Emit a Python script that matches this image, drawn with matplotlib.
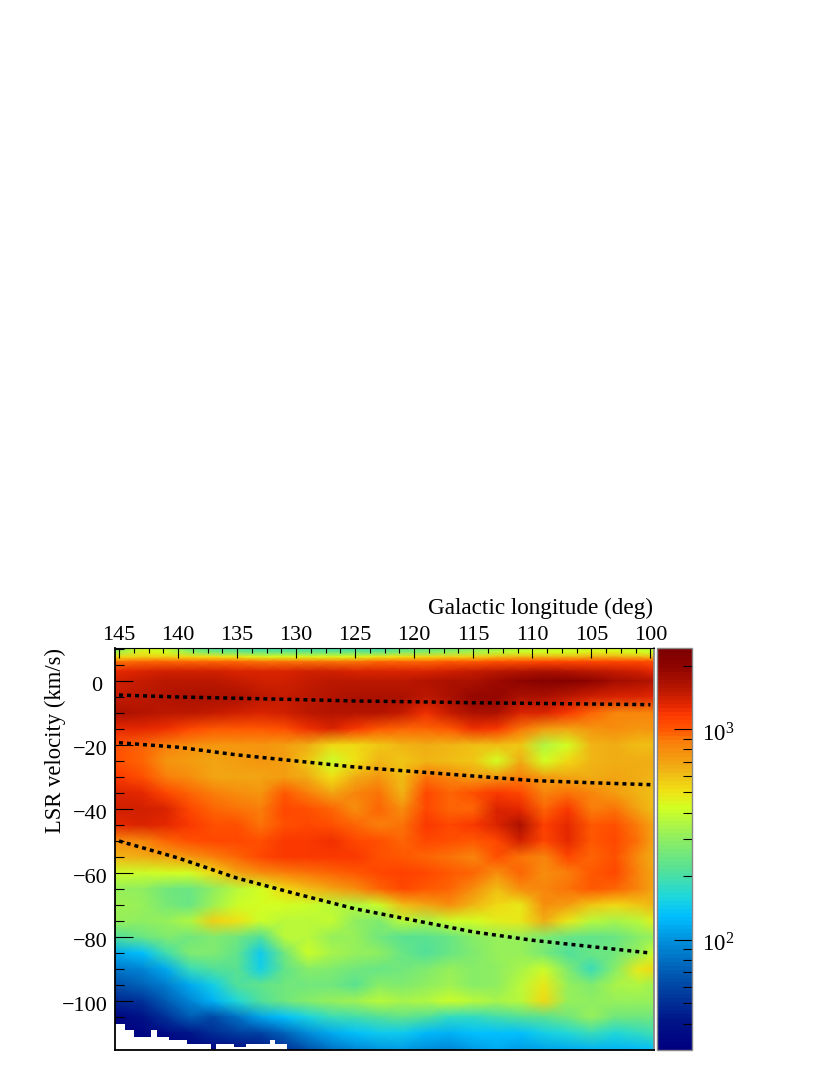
import numpy as np
import matplotlib
matplotlib.use("Agg")
import matplotlib.pyplot as plt
from matplotlib.colors import LinearSegmentedColormap, LogNorm
from matplotlib.ticker import FixedLocator, NullFormatter
from matplotlib.transforms import ScaledTranslation

plt.rcParams['font.family'] = ['Liberation Serif', 'DejaVu Serif']
plt.rcParams['mathtext.default'] = 'regular'
plt.rcParams['mathtext.fontset'] = 'custom'
plt.rcParams['mathtext.rm'] = 'Liberation Serif'

longitudes = [145.3,143,141,139,137,135,133,131,129,127,125,123,121,119,117,115,113,111,109,107,105,103,101,99.7]
velocities = [10.3,9,7.5,6,3,0,-5,-10,-15,-20,-25,-30,-35,-40,-45,-50,-55,-60,-65,-70,-75,-80,-85,-90,-95,-100,-105,-110,-115.3]
# log10(intensity) * 100, one row per velocity
log_intensity = [
[245,262,258,238,232,230,228,228,228,228,228,228,234,236,240,246,252,256,260,260,262,262,260,256],
[252,266,264,250,242,240,238,238,238,238,238,238,244,246,250,254,258,262,264,264,266,266,264,262],
[272,275,275,272,270,268,265,265,265,265,265,268,270,272,275,275,278,280,280,280,282,282,280,278],
[295,298,298,298,298,298,296,296,296,296,296,298,298,298,300,300,302,302,304,304,304,304,304,302],
[310,312,314,314,314,312,312,312,314,314,312,312,312,312,314,316,318,320,322,320,318,316,314,311],
[314,317,319,319,319,317,315,315,317,319,319,319,319,321,322,323,326,330,333,334,329,325,323,321],
[317,319,321,323,323,322,319,317,319,321,323,323,322,319,323,327,327,323,323,318,314,312,312,310],
[323,321,319,319,316,314,312,314,318,320,321,320,316,308,316,322,322,312,312,306,298,292,292,292],
[310,310,308,304,300,300,300,302,308,312,306,300,298,298,300,308,306,296,286,284,288,290,288,288],
[302,298,294,290,288,288,288,286,282,272,272,276,280,282,280,279,278,277,255,264,280,282,278,278],
[302,298,288,286,285,286,288,286,276,262,270,280,276,280,278,276,264,282,264,272,280,282,282,282],
[306,302,294,290,284,284,284,286,282,270,282,288,278,296,292,286,288,294,286,284,282,284,282,280],
[312,310,304,298,294,290,288,300,294,284,292,296,280,304,298,302,306,304,292,296,292,286,280,278],
[314,314,312,304,298,296,294,304,302,298,290,298,290,304,298,298,312,310,298,306,294,296,284,278],
[310,312,310,306,302,302,296,302,304,302,298,294,296,306,304,306,312,322,305,310,300,302,294,284],
[290,292,298,302,304,304,302,306,306,308,304,302,298,304,302,300,304,314,304,310,300,304,296,284],
[280,282,284,288,294,298,304,306,306,306,306,302,300,298,296,292,302,296,292,304,298,302,290,282],
[262,262,264,264,272,284,290,294,296,298,300,303,305,303,300,298,290,298,290,294,300,304,292,284],
[250,248,240,238,248,258,264,272,278,284,290,298,304,300,298,290,278,290,292,296,300,298,292,284],
[252,250,242,238,252,262,264,264,262,258,256,262,278,284,290,280,272,268,290,286,276,272,276,280],
[250,248,250,255,274,270,262,258,258,260,248,244,258,254,262,264,266,268,282,268,258,254,258,266],
[232,238,244,240,244,240,232,258,258,250,250,240,234,234,238,246,250,250,244,238,236,238,246,250],
[205,212,228,244,244,236,216,240,262,254,250,248,238,232,238,244,250,250,242,232,238,240,250,262],
[192,196,205,226,232,234,218,236,246,244,240,238,240,244,250,246,248,254,262,244,226,246,268,272],
[182,186,195,205,218,232,236,240,240,240,234,246,244,248,252,246,248,258,268,250,244,254,256,252],
[168,172,184,196,208,222,232,240,246,250,252,258,254,256,262,258,254,258,272,250,248,250,250,250],
[152,160,172,184,180,190,204,212,220,226,228,232,236,232,224,224,228,232,234,240,250,240,240,240],
[150,152,156,162,170,175,178,186,198,206,212,216,216,210,208,212,212,212,218,222,226,222,224,228],
[148,148,150,150,152,155,160,170,182,190,196,200,202,198,196,202,205,202,204,206,208,208,210,212],
]

# empty bins at the lower left
empty_lon_edges = [145.34,144.5,143.75,142.25,141.75,140.75,139.25,137.25,136.75,135.25,134.25,132.25,131.75,130.75]
empty_top = [-107.3,-109.2,-111.3,-109.2,-111.3,-112.3,-113.5,-115.3,-113.5,-114.5,-113.5,-112.3,-113.5]

curve_lon = [145,140,135,130,125,120,115,110,105,100]
curve_1 = [-4.4,-5.0,-5.4,-5.8,-6.25,-6.5,-6.8,-7.0,-7.2,-7.4]
curve_2 = [-19.3,-20.7,-23.1,-25.0,-26.9,-28.3,-29.7,-31.1,-31.8,-32.4]
curve_3 = [-50.0,-55.3,-61.6,-66.5,-71.2,-74.8,-78.4,-81.0,-83.0,-85.0]

lon_ticks = [145,140,135,130,125,120,115,110,105,100]
vel_ticks = [0,-20,-40,-60,-80,-100]
vel_labels = ['0\u2009','\u221220','\u221240','\u221260','\u221280','\u2212100']

cmap_stops = [(0,(0,0,128)),(.067,(0,20,135)),(.174,(0,80,170)),(.249,(0,130,210)),(.33,(0,190,255)),
              (.38,(30,215,220)),(.448,(85,225,150)),(.535,(150,240,90)),(.604,(210,255,35)),
              (.647,(240,225,20)),(.704,(240,175,20)),(.77,(250,125,10)),(.8,(255,85,0)),(.833,(255,60,0)),
              (.858,(230,40,0)),(.895,(190,25,0)),(.953,(145,5,0)),(1,(125,0,0))]
cmap = LinearSegmentedColormap.from_list('roothot', [(f,tuple(c/255 for c in rgb)) for f,rgb in cmap_stops], N=100)

W, H = 830, 1075
fig = plt.figure(figsize=(W/100, H/100), dpi=100)
def px_axes(x0, y0, x1, y1):
    return fig.add_axes([x0/W, 1-y1/H, (x1-x0)/W, (y1-y0)/H])

ax = px_axes(115, 648, 654, 1050)
Z = 10.0**(np.array(log_intensity)/100.0)
X, Y = np.meshgrid(longitudes, velocities)
norm = LogNorm(vmin=30, vmax=2422)
mesh = ax.pcolormesh(X, Y, Z, shading='gouraud', cmap=cmap, norm=norm, rasterized=True)
ax.fill_between(empty_lon_edges, empty_top+[empty_top[-1]], -116, step='post', color='white', lw=0, zorder=2)

for c in (curve_1, curve_2, curve_3):
    ax.plot(curve_lon, c, color='black', lw=2.5, ls=(0,(1.14,1.17)), dash_capstyle='butt', zorder=3)

ax.set_xlim(145.34, 99.69)
ax.set_ylim(-115.3, 10.3)
ax.xaxis.tick_top()
ax.set_xticks(lon_ticks)
ax.set_xticks(np.arange(100, 145.1, 1.25), minor=True)
ax.set_yticks(vel_ticks)
ax.set_yticklabels(vel_labels)
ax.set_yticks(np.arange(-115, 11, 5), minor=True)
ax.tick_params(axis='x', which='major', direction='in', length=7.2, width=0.8, labelsize=16, pad=1.8)
ax.tick_params(axis='x', which='minor', direction='in', length=3.6, width=0.8)
ax.tick_params(axis='y', which='major', direction='in', length=13, width=0.8, labelsize=16, pad=5)
ax.tick_params(axis='y', which='minor', direction='in', length=6.5, width=0.8)
ax.spines['left'].set_linewidth(1.3)
ax.spines['bottom'].set_linewidth(1.3)
ax.spines['top'].set_linewidth(0.8)
ax.spines['right'].set_color('#888888')
ax.spines['right'].set_linewidth(1.3)
for t in ax.get_yticklabels():
    t.set_transform(t.get_transform() + ScaledTranslation(0, -3/100, fig.dpi_scale_trans))

fig.text(653/W, 1-608/H, 'Galactic longitude (deg)', ha='right', va='center', fontsize=16.65)
fig.text(55/W, 1-648/H, 'LSR velocity (km/s)', rotation=90, ha='center', va='top', fontsize=16.3)

cax = px_axes(657, 648, 692, 1050)
cb = fig.colorbar(mesh, cax=cax)
cb.outline.set_edgecolor('#888888')
cb.outline.set_linewidth(1.0)
cax.yaxis.set_major_locator(FixedLocator([100, 1000]))
cax.yaxis.set_minor_locator(FixedLocator([40,50,60,70,80,90,200,300,400,500,600,700,800,900,2000]))
cax.yaxis.set_minor_formatter(NullFormatter())
cax.set_yticklabels([r'$10^{2}$', r'$10^{3}$'])
cax.tick_params(axis='y', which='major', direction='in', length=13, width=0.8, labelsize=16.5, pad=7)
cax.tick_params(axis='y', which='minor', direction='in', length=6.5, width=0.8)
for t in cax.get_yticklabels():
    t.set_transform(t.get_transform() + ScaledTranslation(0, -3/100, fig.dpi_scale_trans))

fig.savefig('out.png', dpi=100)
